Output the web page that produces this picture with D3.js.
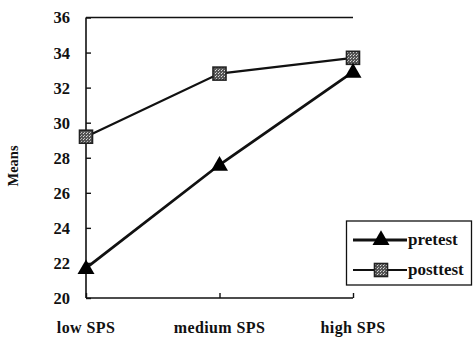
<!DOCTYPE html>
<html><head><meta charset="utf-8">
<script src="https://cdn.jsdelivr.net/npm/d3@7"></script>
<style>body{margin:0;background:#fff}svg{display:block}text{font-family:"Liberation Serif","Times New Roman",serif;fill:#111;font-weight:bold}</style>
</head><body>
<script>
const categories = ["low SPS", "medium SPS", "high SPS"];
const pretest = [21.7, 27.6, 32.9];
const posttest = [29.2, 32.8, 33.7];
const yTicks = [20, 22, 24, 26, 28, 30, 32, 34, 36];
const seriesNames = ["pretest", "posttest"];

const W = 473, H = 339;
const svg = d3.select("body").append("svg").attr("width", W).attr("height", H);
const x = d3.scalePoint().domain(categories).range([86, 353]);
const y = d3.scaleLinear().domain([20, 36]).range([298, 17.5]);

const defs = svg.append("defs");
const pat = defs.append("pattern").attr("id","hatch").attr("width",3).attr("height",3).attr("patternUnits","userSpaceOnUse");
pat.append("rect").attr("width",3).attr("height",3).attr("fill","#555");
pat.append("rect").attr("width",1).attr("height",1).attr("fill","#bbb");
pat.append("rect").attr("x",2).attr("y",1).attr("width",1).attr("height",1).attr("fill","#ddd");

// y axis
const ya = svg.append("g").attr("transform","translate(86,0)")
  .call(d3.axisRight(y).tickValues(yTicks).tickSize(5).tickFormat(""));
ya.select(".domain").remove();
ya.selectAll("line").attr("stroke","#111").attr("stroke-width",1.4);
svg.append("line").attr("x1",86).attr("x2",86).attr("y1",17.5).attr("y2",298).attr("stroke","#111").attr("stroke-width",1.6);
svg.selectAll(".ylab").data(yTicks).enter().append("text")
  .attr("x", 70).attr("y", d => y(d)).attr("dy","0.36em").attr("text-anchor","end")
  .attr("font-size", 16.5).text(d => d);
// top line
svg.append("line").attr("x1",86).attr("x2",353).attr("y1",17.5).attr("y2",17.5).attr("stroke","#111").attr("stroke-width",1.4);
// x axis
const xa = svg.append("g").attr("transform","translate(0,298)")
  .call(d3.axisTop(x).tickSize(5).tickFormat(""));
xa.select(".domain").remove();
xa.selectAll("line").attr("stroke","#111").attr("stroke-width",1.4);
svg.append("line").attr("x1",86).attr("x2",353).attr("y1",298).attr("y2",298).attr("stroke","#111").attr("stroke-width",1.6);
svg.selectAll(".xlab").data(categories).enter().append("text")
  .attr("x", d => x(d)).attr("y", 333).attr("text-anchor","middle")
  .attr("font-size", 16).attr("letter-spacing", 0.4).text(d => d);
svg.append("text").attr("transform","translate(18,166) rotate(-90)").attr("text-anchor","middle")
  .attr("font-size",14.5).text("Means");

const line = d3.line().x((d,i) => x(categories[i])).y(d => y(d));
svg.append("path").datum(posttest).attr("d", line).attr("fill","none").attr("stroke","#111").attr("stroke-width",2.2);
svg.append("path").datum(pretest).attr("d", line).attr("fill","none").attr("stroke","#111").attr("stroke-width",2.8);

const tri = d3.symbol().type(d3.symbolTriangle).size(125);
function square(g, cx, cy) {
  g.append("rect").attr("x",cx-6.5).attr("y",cy-6.5).attr("width",13).attr("height",13)
    .attr("fill","url(#hatch)").attr("stroke","#222").attr("stroke-width",1.6);
}
posttest.forEach((v,i) => square(svg, x(categories[i]), y(v)));
svg.selectAll(".tri").data(pretest).enter().append("path")
  .attr("d", tri).attr("transform",(d,i)=>`translate(${x(categories[i])},${y(d)+1})`).attr("fill","#000");

// legend
const lg = svg.append("g");
lg.append("rect").attr("x",346.5).attr("y",221).attr("width",125).attr("height",64).attr("fill","#fff").attr("stroke","#111").attr("stroke-width",1.3);
lg.append("line").attr("x1",353).attr("x2",407).attr("y1",240).attr("y2",240).attr("stroke","#111").attr("stroke-width",2.8);
lg.append("path").attr("d",tri).attr("transform","translate(381,240)").attr("fill","#000");
lg.append("line").attr("x1",353).attr("x2",407).attr("y1",270).attr("y2",270).attr("stroke","#111").attr("stroke-width",2.2);
square(lg, 381, 270);
lg.selectAll(".lt").data(seriesNames).enter().append("text")
  .attr("x",408).attr("y",(d,i)=>240+i*30).attr("dy","0.3em").attr("font-size",17).text(d=>d);
</script>
</body></html>
